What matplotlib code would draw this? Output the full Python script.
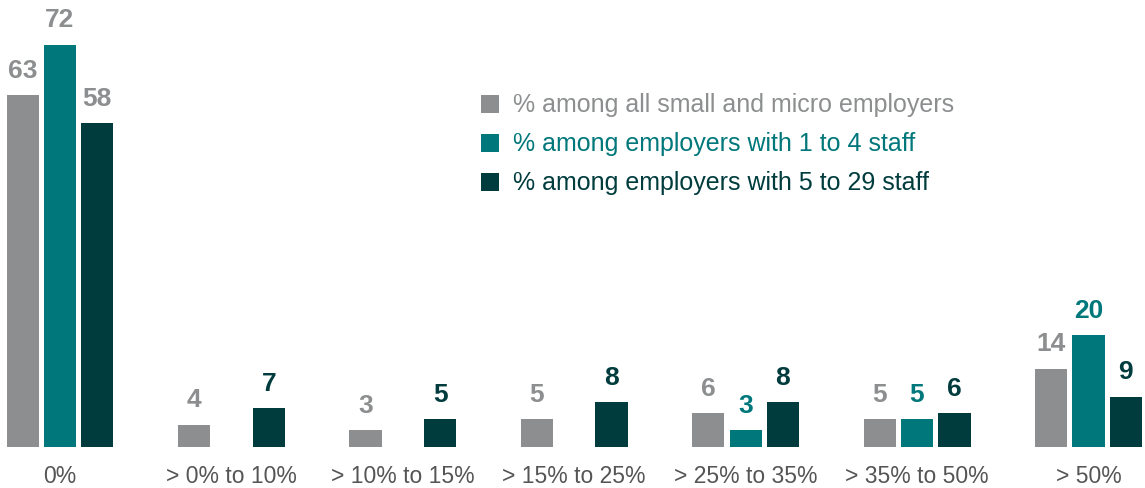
import numpy as np
import matplotlib
matplotlib.use("Agg")
import matplotlib.pyplot as plt
from matplotlib.patches import Patch

plt.rcParams['font.family'] = ['Liberation Sans', 'DejaVu Sans']

categories = ['0%', '> 0% to 10%', '> 10% to 15%', '> 15% to 25%',
              '> 25% to 35%', '> 35% to 50%', '> 50%']
all_small = [63, 4, 3, 5, 6, 5, 14]
staff_1_4 = [72, None, None, None, 3, 5, 20]
staff_5_29 = [58, 7, 5, 8, 8, 6, 9]
series_names = ['% among all small and micro employers',
                '% among employers with 1 to 4 staff',
                '% among employers with 5 to 29 staff']

colors = ['#8c8e8f', '#00777a', '#003c3d']

fig = plt.figure(figsize=(11.45, 4.88), dpi=100)
ax = fig.add_axes([0, 0.084, 1, 0.916])

x = np.arange(len(categories))
width = 0.188
offsets = [-0.218, 0, 0.218]

for s, (vals, col) in enumerate(zip([all_small, staff_1_4, staff_5_29], colors)):
    v = np.array([np.nan if a is None else a for a in vals], dtype=float)
    ax.bar(x + offsets[s], v, width=width, color=col)
    for i, val in enumerate(v):
        if np.isnan(val):
            continue
        lc = colors[0] if i == 0 else col
        ax.text(x[i] + offsets[s], val + 2.2, f'{val:.0f}', ha='center', va='bottom',
                fontsize=19, fontweight='bold', color=lc)

ax.set_xlim(-0.35, 6.33)
ax.set_ylim(0, 80)
ax.set_xticks(x)
ax.set_xticklabels(categories, fontsize=16.5, color='#555555')
ax.tick_params(axis='x', length=0, pad=13)
ax.set_yticks([])
for sp in ax.spines.values():
    sp.set_visible(False)

handles = [Patch(facecolor=c) for c in colors]
leg = ax.legend(handles, series_names, loc='upper left', bbox_to_anchor=(0.42, 0.791),
                frameon=False, fontsize=18, handlelength=0.72, handleheight=0.72,
                handletextpad=0.55, labelspacing=0.6, borderpad=0, borderaxespad=0)
for t, c in zip(leg.get_texts(), colors):
    t.set_color(c)

fig.savefig('out.png', dpi=100)
